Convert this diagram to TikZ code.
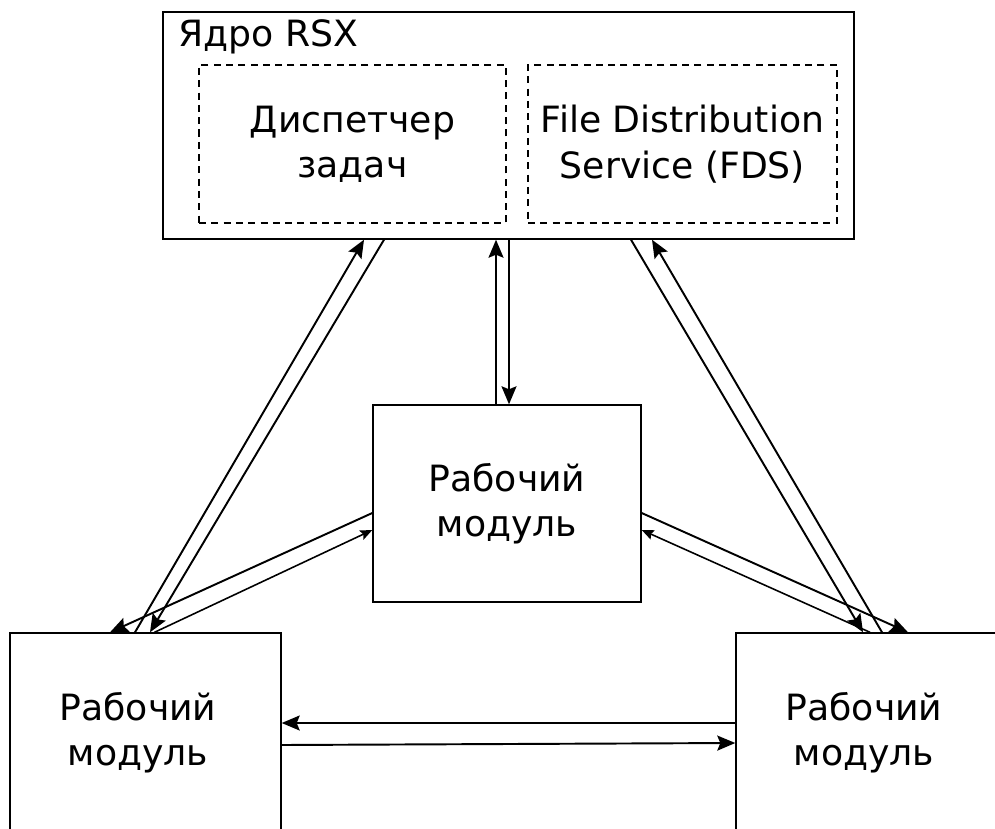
\documentclass[tikz,border=0pt]{standalone}
\usepackage{fontspec}
\setmainfont{DejaVu Sans}
\usepackage{tikz}
\usetikzlibrary{arrows.meta}

\begin{document}
\begin{tikzpicture}[
    box/.style={draw, line width=0.8pt, font=\fontsize{20.6}{25.8}\selectfont, align=center, inner sep=0pt},
    subbox/.style={box, dashed, dash pattern=on 4pt off 3pt},
    bigflow/.style={-{Stealth[length=0.36cm, width=0.3cm, inset=0.06cm]}, line width=1.1pt},
    smallflow/.style={-{Stealth[length=0.24cm, width=0.2cm, inset=0.04cm]}, line width=0.9pt},
    lbl/.style={font=\fontsize{20.6}{25.8}\selectfont, inner sep=0pt, align=center},
]
\useasboundingbox (0,0) rectangle (19.9,16.56);
\clip (0,0) rectangle (19.9,16.56);

% kernel
\node[box, minimum width=13.82cm, minimum height=4.54cm] at (10.17, 14.05) (core) {};
\node[lbl, anchor=base west] at (3.56, 15.62) (coretitle) {Ядро RSX};
\node[subbox, minimum width=6.14cm, minimum height=3.16cm] at (7.05, 13.68)  (disp) {Диспетчер\\задач};
\node[subbox, minimum width=6.18cm, minimum height=3.16cm] at (13.65, 13.68) (fds)  {File Distribution\\Service (FDS)};

% worker modules
\node[box, minimum width=5.36cm, minimum height=3.94cm] at (10.14, 6.49) (work) {Рабочий\\модуль};
\node[box, minimum width=5.42cm, minimum height=4.54cm] at (2.91, 1.63) (workL)
    {\phantom{x}};
\node[lbl] at ([xshift=-0.15cm, yshift=0.27cm]workL.center) (workLtxt) {Рабочий\\модуль};
\node[box, minimum width=5.48cm, minimum height=4.54cm] at (17.46, 1.63) (workR)
    {\phantom{x}};
\node[lbl] at ([xshift=-0.18cm, yshift=0.27cm]workR.center) (workRtxt) {Рабочий\\модуль};

% kernel <-> central module
\draw[bigflow] ([xshift=-0.22cm]work.north) -- ([xshift=-0.25cm]core.south);
\draw[bigflow] ([xshift=0.01cm]core.south) -- ([xshift=0.04cm]work.north);

% kernel <-> left module
\draw[bigflow] ([xshift=-0.21cm]workL.north) -- ([xshift=-2.89cm]core.south);
\draw[bigflow] ([xshift=-2.49cm]core.south) -- ([xshift=0.09cm]workL.north);

% kernel <-> right module
\draw[bigflow] ([xshift=2.45cm]core.south) -- ([xshift=-0.2cm]workR.north);
\draw[bigflow] ([xshift=0.18cm]workR.north) -- ([xshift=2.87cm]core.south);

% central module <-> side modules
\draw[bigflow]   ([yshift=-0.19cm]work.west) -- ([xshift=-0.71cm]workL.north);
\draw[smallflow] ([xshift=0.18cm]workL.north) -- ([yshift=-0.53cm]work.west);
\draw[bigflow]   ([yshift=-0.19cm]work.east) -- ([xshift=0.7cm]workR.north);
\draw[smallflow] ([xshift=-0.06cm]workR.north) -- ([yshift=-0.53cm]work.east);

% left <-> right module
\draw[bigflow] ([yshift=0.47cm]workR.west) -- ([yshift=0.47cm]workL.east);
\draw[bigflow] ([yshift=0.03cm]workL.east) -- ([yshift=0.07cm]workR.west);

\end{tikzpicture}
\end{document}
